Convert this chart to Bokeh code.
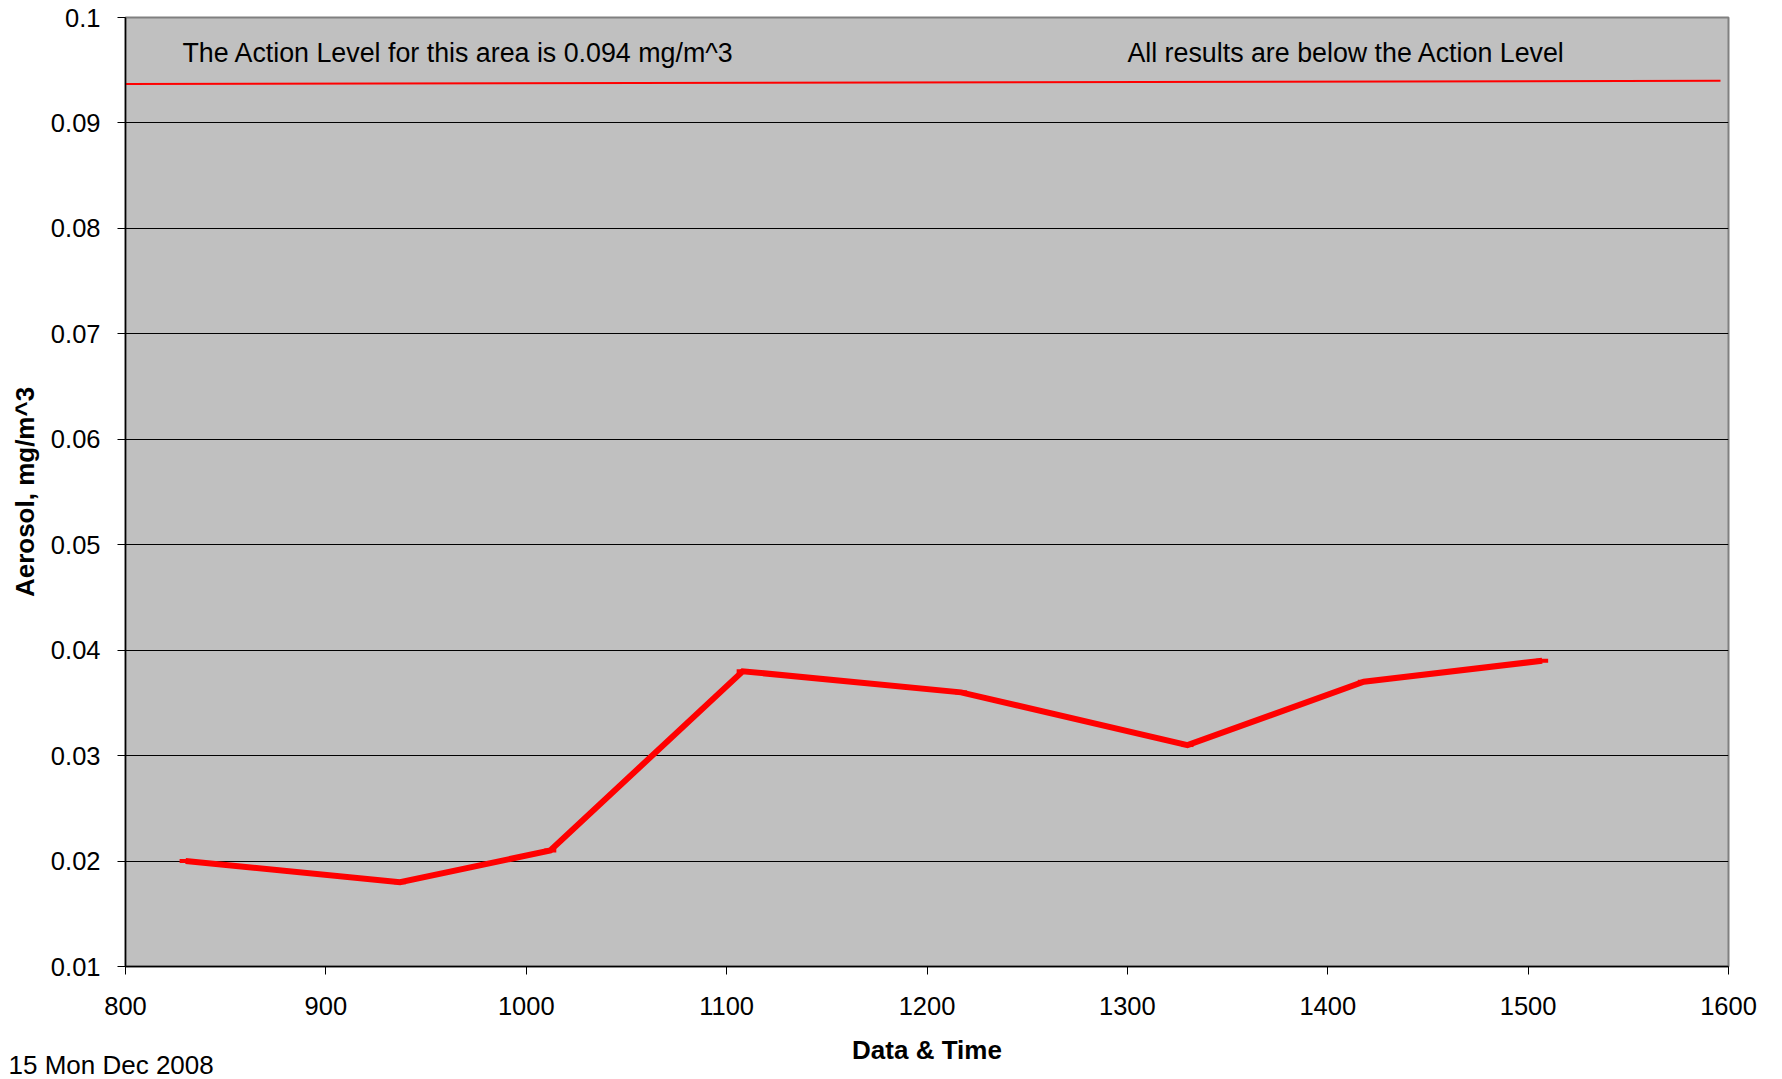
from bokeh.plotting import figure
from bokeh.models import Range1d, FixedTicker, Label, Title
from bokeh.embed import file_html
from bokeh.resources import INLINE

# ---- data ----
times = [830, 937, 1012, 1108, 1217, 1330, 1418, 1507]
aerosol = [0.020, 0.018, 0.021, 0.038, 0.036, 0.031, 0.037, 0.039]
action_x = [800, 1596]
action_y = [0.0937, 0.0940]
x_ticks = [800, 900, 1000, 1100, 1200, 1300, 1400, 1500, 1600]
y_ticks = [0.01, 0.02, 0.03, 0.04, 0.05, 0.06, 0.07, 0.08, 0.09, 0.1]
y_tick_labels = ["0.01", "0.02", "0.03", "0.04", "0.05", "0.06", "0.07", "0.08", "0.09", "0.1"]
note_left = "The Action Level for this area is 0.094 mg/m^3"
note_right = "All results are below the Action Level"
date_text = "15 Mon Dec 2008"

FONT = "Liberation Sans"

p = figure(width=1774, height=1079, output_backend="svg", toolbar_location=None,
           x_range=Range1d(800, 1600), y_range=Range1d(0.01, 0.1),
           min_border_left=125, min_border_right=46, min_border_top=17, min_border_bottom=113)

p.border_fill_color = "white"
p.background_fill_color = "#C0C0C0"
p.outline_line_color = "#808080"
p.outline_line_width = 2

p.xgrid.visible = False
p.ygrid.ticker = FixedTicker(ticks=y_ticks)
p.ygrid.grid_line_color = "black"
p.ygrid.grid_line_width = 1

p.xaxis.ticker = FixedTicker(ticks=x_ticks)
p.yaxis.ticker = FixedTicker(ticks=y_ticks)
p.yaxis.major_label_overrides = {t: s for t, s in zip(y_ticks, y_tick_labels)}

for ax in (p.xaxis[0], p.yaxis[0]):
    ax.axis_line_color = "black"
    ax.axis_line_width = 1.5
    ax.major_tick_line_color = "black"
    ax.major_tick_in = 0
    ax.major_tick_out = 8
    ax.minor_tick_line_color = None
    ax.major_label_text_font = FONT
    ax.major_label_text_font_size = "25.5px"
    ax.major_label_text_color = "black"
    ax.axis_label_text_font = FONT
    ax.axis_label_text_font_size = "26px"
    ax.axis_label_text_font_style = "bold"
    ax.axis_label_text_color = "black"

p.xaxis.axis_label = "Data & Time"
p.yaxis.axis_label = "Aerosol, mg/m^3"
p.xaxis.major_label_standoff = 22
p.xaxis.axis_label_standoff = 17
p.yaxis.major_label_standoff = 17
p.yaxis.axis_label_standoff = 8

p.line(action_x, action_y, line_color="#FF0000", line_width=2)
p.line(times, aerosol, line_color="#FF0000", line_width=6, line_join="miter")
p.scatter(times, aerosol, marker="dash", size=12, line_color="#FF0000", line_width=4)

for txt, xx in ((note_left, 828.4), (note_right, 1300)):
    p.add_layout(Label(x=xx, y=0.09668, text=txt, text_font=FONT, text_font_size="26.8px",
                       text_color="black", text_baseline="alphabetic"))

p.add_layout(Title(text=date_text, align="left", offset=-117, text_font=FONT,
                   text_font_size="26px", text_font_style="normal", text_color="black",
                   vertical_align="top", standoff=-36), "below")

open("out.html", "w").write(file_html(p, INLINE))
